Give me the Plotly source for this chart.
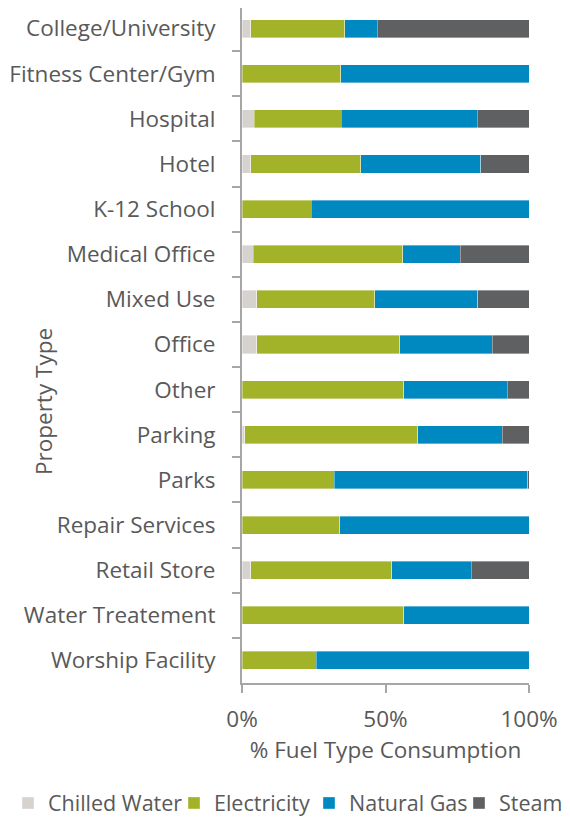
import plotly.graph_objects as go

categories = ["College/University", "Fitness Center/Gym", "Hospital", "Hotel", "K-12 School",
              "Medical Office", "Mixed Use", "Office", "Other", "Parking", "Parks",
              "Repair Services", "Retail Store", "Water Treatement", "Worship Facility"]
chilled_water = [3.0, 0.0, 4.3, 3.0, 0.0, 3.9, 5.2, 5.1, 0.0, 1.0, 0.0, 0.0, 3.1, 0.0, 0.0]
electricity = [32.8, 34.4, 30.2, 38.4, 24.2, 52.1, 41.1, 49.8, 56.3, 60.2, 32.2, 34.0, 49.1, 56.3, 25.8]
natural_gas = [11.3, 65.6, 47.5, 41.8, 75.8, 20.1, 35.8, 32.3, 36.1, 29.5, 67.3, 66.0, 27.7, 43.7, 74.2]
steam = [52.9, 0.0, 18.0, 16.8, 0.0, 23.9, 17.9, 12.8, 7.6, 9.3, 0.5, 0.0, 20.1, 0.0, 0.0]

series_names = ["Chilled Water", "Electricity", "Natural Gas", "Steam"]
series_values = [chilled_water, electricity, natural_gas, steam]
colors = ["#d6d3ce", "#a3b329", "#0088c0", "#5f6062"]

FONT = "Open Sans"
FS = 22.5
LFS = 21.5
GREY = "#595959"
AX = "#a6a6a6"
# page body has an 8px margin, so the figure is 8px smaller than the window
W, H = 562, 811
PL, PR, PT, PB = 234, 521, 0, 675  # plot area in figure pixels

legend_ids = ["legend", "legend2", "legend3", "legend4"]
legend_text_px = [34, 205, 340, 490]

fig = go.Figure()
for name, vals, col, lid in zip(series_names, series_values, colors, legend_ids):
    fig.add_trace(go.Bar(
        y=categories, x=vals, name=name, orientation="h", legend=lid,
        marker=dict(color=col, line=dict(color="rgba(255,255,255,0.6)", width=0.6)),
    ))

legend_common = dict(orientation="h", xref="container", yref="container",
                     yanchor="middle", y=1 - 795 / H, xanchor="left",
                     font=dict(family=FONT, size=LFS, color=GREY),
                     bgcolor="rgba(0,0,0,0)", borderwidth=0, itemwidth=30)
layout_legends = {}
for lid, tx in zip(legend_ids, legend_text_px):
    layout_legends[lid] = dict(legend_common, x=max(tx - 39, 0) / W)

fig.update_layout(
    barmode="stack",
    bargap=0.6,
    width=W, height=H,
    margin=dict(l=PL, r=W - PR, t=PT, b=H - PB, autoexpand=False),
    paper_bgcolor="white", plot_bgcolor="white",
    font=dict(family=FONT, size=FS, color=GREY),
    showlegend=True,
    xaxis=dict(range=[0, 100], dtick=50, ticksuffix="%", showgrid=False, zeroline=False,
               showline=True, linecolor=AX, linewidth=2, ticks="outside", ticklen=8,
               tickcolor=AX, tickwidth=2, tickfont=dict(size=FS, color=GREY), automargin=False,
               ticklabelstandoff=7,
               title=dict(text="% Fuel Type Consumption", font=dict(size=FS, color=GREY), standoff=6)),
    yaxis=dict(range=[14.5, -0.456], showgrid=False, zeroline=False, showline=True,
               linecolor=AX, linewidth=2, ticks="outside", tickson="boundaries", ticklen=8,
               tickcolor=AX, tickwidth=2, tickfont=dict(size=FS, color=GREY), automargin=False,
               ticklabelstandoff=20, title=None),
    annotations=[dict(text="Property Type", textangle=-90, xref="paper", yref="paper",
                      x=(35 - PL) / (PR - PL), y=(PB - 394) / (PB - PT),
                      xanchor="center", yanchor="middle",
                      showarrow=False, font=dict(size=FS, color=GREY))],
    **layout_legends,
)

fig.write_html("out.html")
